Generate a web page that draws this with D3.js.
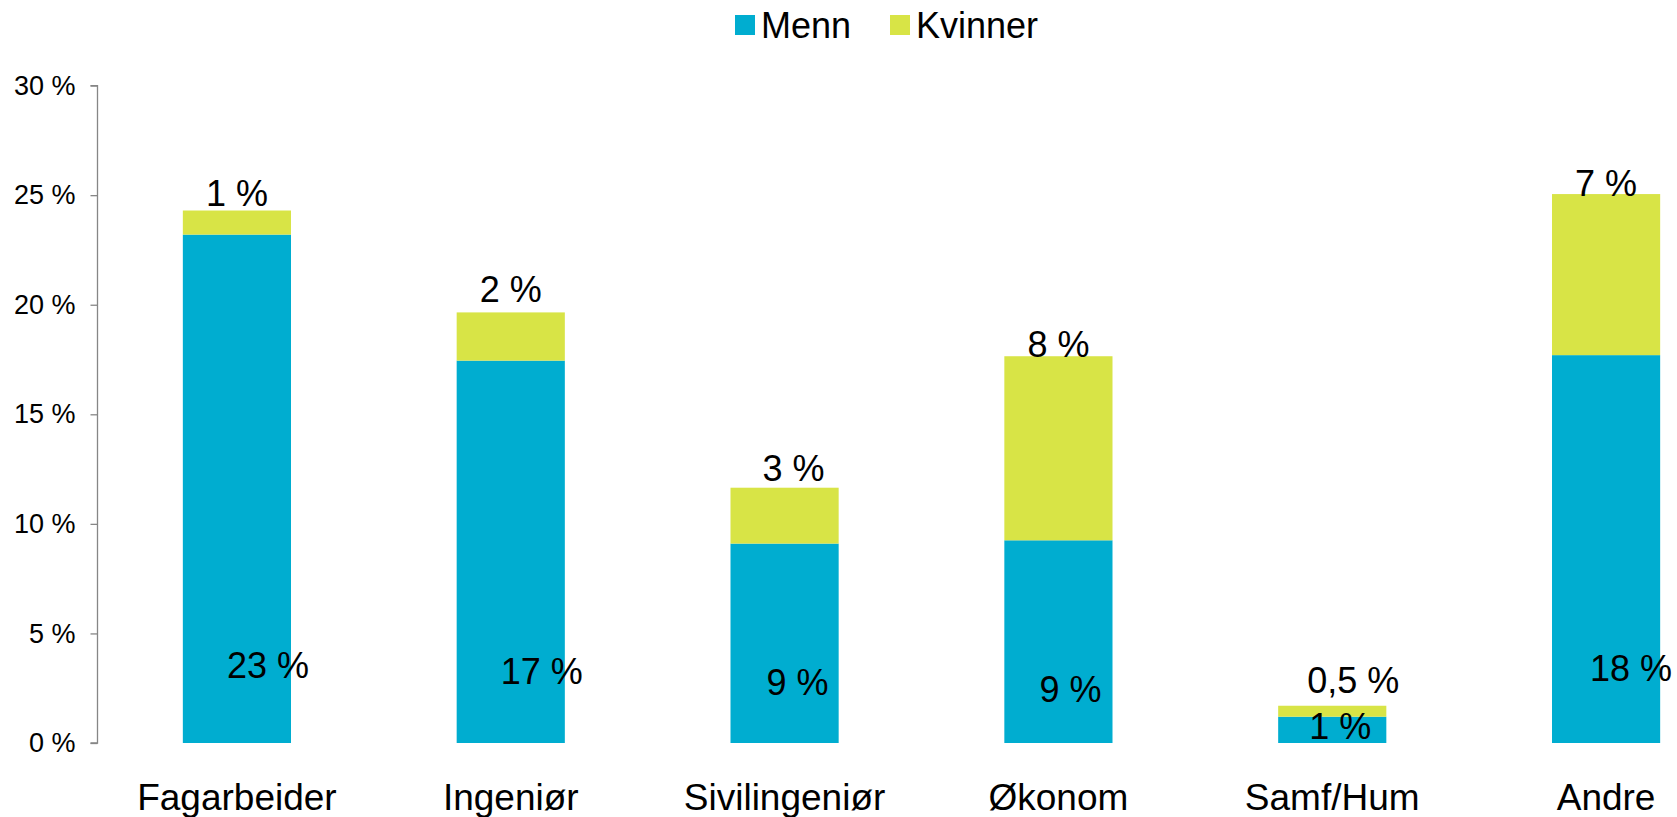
<!DOCTYPE html>
<html>
<head>
<meta charset="utf-8">
<script src="https://cdn.jsdelivr.net/npm/d3@7"></script>
<style>
  html, body { margin: 0; padding: 0; background: #fff; }
  svg { display: block; font-family: "Liberation Sans", Arial, sans-serif; }
</style>
</head>
<body>
<svg id="chart" width="1677" height="817"></svg>
<script>
// ---- data ----
const categories = ["Fagarbeider", "Ingeniør", "Sivilingeniør", "Økonom", "Samf/Hum", "Andre"];
const menn = [23.2, 17.45, 9.1, 9.25, 1.2, 17.7];
const kvinner = [1.1, 2.2, 2.55, 8.4, 0.5, 7.35];
const mennLabels = ["23 %", "17 %", "9 %", "9 %", "1 %", "18 %"];
const kvinnerLabels = ["1 %", "2 %", "3 %", "8 %", "0,5 %", "7 %"];
const yTicks = [0, 5, 10, 15, 20, 25, 30];
const seriesNames = ["Menn", "Kvinner"];

// ---- layout (label nudges in px, not data) ----
const mennNudge = [[31, -78], [31, -72], [13, -61], [12, -54], [8, -17], [25, -75]];
const kvinnerNudge = [[0, -17], [0, -23], [9, -19], [0, -12], [21, -25], [0, -11]];
const colors = { Menn: "#00ADD0", Kvinner: "#D8E446" };

const svg = d3.select("#chart");
const axisX = 97.5;
const y = d3.scaleLinear().domain([0, 30]).range([743, 85.6]);
const x = d3.scaleBand().domain(categories).range([100, 1743]).paddingInner(0.605).paddingOuter(0.3025);

const rows = categories.map((c, i) => ({ cat: c, Menn: menn[i], Kvinner: kvinner[i], i }));
const stack = d3.stack().keys(seriesNames)(rows);

// bars
svg.append("g").selectAll("g").data(stack).join("g")
  .attr("fill", d => colors[d.key])
  .selectAll("rect").data(d => d).join("rect")
  .attr("x", d => x(d.data.cat))
  .attr("width", x.bandwidth())
  .attr("y", d => y(d[1]))
  .attr("height", d => y(d[0]) - y(d[1]));

// y axis
const yAxis = d3.axisLeft(y).tickValues(yTicks).tickSize(7).tickPadding(15)
  .tickFormat(d => d + " %");
const gy = svg.append("g").attr("transform", `translate(${axisX},0)`).call(yAxis);
gy.select(".domain").attr("stroke", "#868686").attr("stroke-width", 1.3).attr("d", `M-7,${y(30)}H0V${y(0)}H-7`);
gy.selectAll(".tick line").attr("stroke", "#868686").attr("stroke-width", 1.3);
gy.selectAll(".tick text").attr("font-size", 27).attr("fill", "#000")
  .attr("font-family", "Liberation Sans, Arial, sans-serif");

// x labels
svg.append("g").selectAll("text").data(categories).join("text")
  .attr("x", d => x(d) + x.bandwidth() / 2)
  .attr("y", 810)
  .attr("text-anchor", "middle")
  .attr("font-size", 37)
  .attr("fill", "#000")
  .text(d => d);

// data labels
svg.append("g").selectAll("text").data(rows).join("text")
  .attr("x", d => x(d.cat) + x.bandwidth() / 2 + mennNudge[d.i][0])
  .attr("y", d => y(0) + mennNudge[d.i][1])
  .attr("dy", "0.35em")
  .attr("text-anchor", "middle")
  .attr("font-size", 36)
  .attr("fill", "#000")
  .text(d => mennLabels[d.i]);

svg.append("g").selectAll("text").data(rows).join("text")
  .attr("x", d => x(d.cat) + x.bandwidth() / 2 + kvinnerNudge[d.i][0])
  .attr("y", d => y(d.Menn + d.Kvinner) + kvinnerNudge[d.i][1])
  .attr("dy", "0.35em")
  .attr("text-anchor", "middle")
  .attr("font-size", 36)
  .attr("fill", "#000")
  .text(d => kvinnerLabels[d.i]);

// legend
const legendPos = [735, 890];
const lg = svg.append("g").selectAll("g").data(seriesNames).join("g")
  .attr("transform", (d, i) => `translate(${legendPos[i]},15)`);
lg.append("rect").attr("width", 20).attr("height", 20).attr("fill", d => colors[d]);
lg.append("text").attr("x", 26).attr("y", 10).attr("dy", "0.35em")
  .attr("font-size", 36).attr("fill", "#000").text(d => d);
</script>
</body>
</html>
